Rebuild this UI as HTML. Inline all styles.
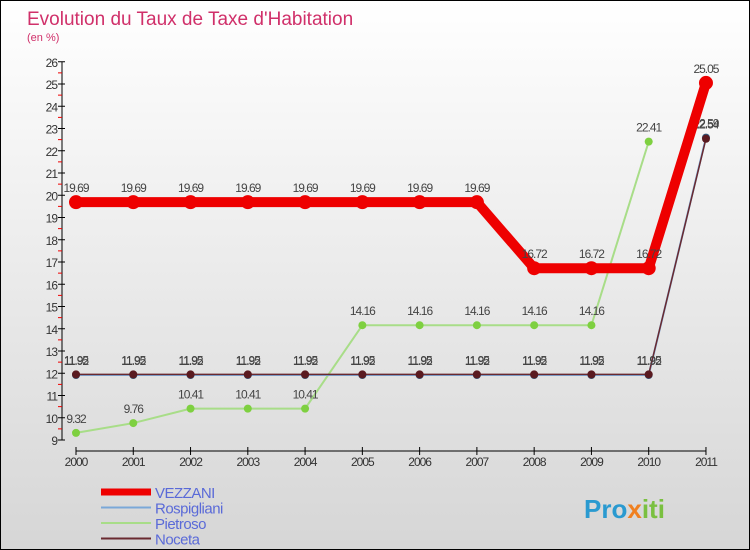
<!DOCTYPE html>
<html><head><meta charset="utf-8"><style>
body{margin:0;}
#c{width:750px;height:550px;position:relative;overflow:hidden;background:linear-gradient(#fff,#d6d6d6);box-sizing:border-box;border:1px solid #000;font-family:"Liberation Sans",sans-serif;}
</style></head><body>
<div id="c">
<svg width="750" height="550" style="position:absolute;left:0;top:0">
<text x="26" y="24" font-size="19" fill="#d0306a">Evolution du Taux de Taxe d'Habitation</text>
<text x="26" y="40" font-size="11" fill="#d0306a">(en %)</text>
<g id="axes"></g>
<g id="series"></g>
<g id="legend"></g>
<text x="583" y="517" font-size="26" font-weight="bold" fill="#2a9ad0">Pro<tspan fill="#f08020">x</tspan><tspan fill="#7ac040">iti</tspan></text>
</svg>
</div>
<script>
const years=['2000','2001','2002','2003','2004','2005','2006','2007','2008','2009','2010','2011'];
const vezzani=[19.69,19.69,19.69,19.69,19.69,19.69,19.69,19.69,16.72,16.72,16.72,25.05];
const rospigliani=[11.92,11.92,11.92,11.92,11.92,11.92,11.92,11.92,11.92,11.92,11.92,22.59];
const pietroso=[9.32,9.76,10.41,10.41,10.41,14.16,14.16,14.16,14.16,14.16,22.41,null];
const noceta=[11.95,11.95,11.95,11.95,11.95,11.95,11.95,11.95,11.95,11.95,11.95,22.54];
const yTicks=[9,10,11,12,13,14,15,16,17,18,19,20,21,22,23,24,25,26];
const NS='http://www.w3.org/2000/svg';
const X=i=>75+i*57.27, Y=v=>439-(v-9)*22.25;
function mk(p,t,a){const e=document.createElementNS(NS,t);for(const k in a)e.setAttribute(k,a[k]);p.appendChild(e);return e;}
const ax=document.getElementById('axes');
let l=mk(ax,'line',{x1:61,y1:Y(26),x2:61,y2:Y(9),stroke:'#000'});


yTicks.forEach(v=>{
 mk(ax,'line',{x1:57,y1:Y(v),x2:64,y2:Y(v),stroke:'#000'});
 if(v<26)mk(ax,'line',{x1:57,y1:Y(v+0.5),x2:61,y2:Y(v+0.5),stroke:'#e00'});
 const t=mk(ax,'text',{x:56,y:Y(v)+5,'font-size':12,fill:'#333','text-anchor':'end','letter-spacing':'-1'});
 t.textContent=v;
 
 
});
l=mk(ax,'line',{x1:X(0),y1:450,x2:X(11),y2:450,stroke:'#000'});


years.forEach((y,i)=>{
 mk(ax,'line',{x1:X(i),y1:446,x2:X(i),y2:454,stroke:'#000'});
 const t=mk(ax,'text',{x:X(i),y:465,'font-size':12,fill:'#333','text-anchor':'middle','letter-spacing':'-1'});
 t.textContent=y;
 
 
});
const sg=document.getElementById('series');
function draw(name,data,color,w,r,fill){
 const g=mk(sg,'g',{});
 
 
 const pts=data.map((v,i)=>v==null?null:[X(i),Y(v)]).filter(p=>p);
 mk(g,'polyline',{points:pts.map(p=>p.join(',')).join(' '),fill:'none',stroke:color,'stroke-width':w,'stroke-linejoin':'round'});
 data.forEach((v,i)=>{if(v==null)return;
  const c=mk(g,'circle',{cx:X(i),cy:Y(v),r:r,fill:fill});
  
  
  const t=mk(g,'text',{x:X(i),y:Y(v)-10,'font-size':12,fill:'#444','text-anchor':'middle','letter-spacing':'-1'});
  t.textContent=v.toFixed(2).replace(/0$/,'').replace(/\.$/,'');
  
  
 });
}
draw('pietroso',pietroso,'#a8dd88',2,4,'#7ed040');
draw('rospigliani',rospigliani,'#7aa8d8',2,4,'#335577');
draw('noceta',noceta,'#6a2a30',1.5,4,'#5a1a20');
draw('vezzani',vezzani,'#ee0000',10,7,'#ee0000');
const lg=document.getElementById('legend');
const items=[['VEZZANI','#ee0000',7],['Rospigliani','#7aa8d8',2],['Pietroso','#a8dd88',2],['Noceta','#6a2a30',2]];
items.forEach((it,i)=>{const y=491+i*15.5;
 mk(lg,'line',{x1:100,y1:y,x2:150,y2:y,stroke:it[1],'stroke-width':it[2]});
 const t=mk(lg,'text',{x:154,y:y+6,'font-size':15,fill:'#5a6ad8','letter-spacing':'-0.5'});
 t.textContent=it[0];
 
 
});
</script>
</body></html>
